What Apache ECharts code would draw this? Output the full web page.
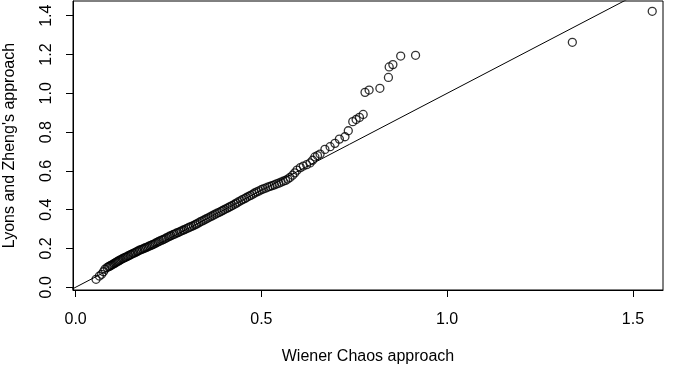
<!DOCTYPE html>
<html>
<head>
<meta charset="utf-8">
<title>Wiener Chaos vs Lyons and Zheng</title>
<script src="https://cdn.jsdelivr.net/npm/echarts@6/dist/echarts.min.js"></script>
<style>
  html, body { margin: 0; padding: 0; background: #fff; }
  #chart { width: 675px; height: 367px; }
</style>
</head>
<body>
<div id="chart"></div>
<script>
// x: Wiener Chaos approach, y: Lyons and Zheng's approach
const wienerChaos = [
  0.055, 0.064, 0.070, 0.075, 0.079,
  0.085, 0.089, 0.092, 0.095, 0.098, 0.101, 0.104, 0.107, 0.110, 0.113,
  0.116, 0.119, 0.122, 0.126, 0.129, 0.133, 0.136, 0.140, 0.143, 0.147,
  0.150, 0.154, 0.157, 0.161, 0.165, 0.168, 0.172, 0.176, 0.180, 0.184,
  0.187, 0.191, 0.195, 0.199, 0.203, 0.207, 0.211, 0.215, 0.219, 0.223,
  0.227, 0.232, 0.236, 0.240, 0.244, 0.249, 0.253, 0.257, 0.262, 0.266,
  0.271, 0.275, 0.280, 0.284, 0.289, 0.293, 0.298, 0.303, 0.307, 0.312,
  0.317, 0.322, 0.326, 0.331, 0.336, 0.341, 0.346, 0.351, 0.356, 0.361,
  0.366, 0.371, 0.376, 0.381, 0.386, 0.391, 0.396, 0.401, 0.407, 0.412,
  0.417, 0.422, 0.428, 0.433, 0.438, 0.444, 0.449, 0.455, 0.460, 0.466,
  0.471, 0.477, 0.482, 0.488, 0.494, 0.500, 0.505, 0.511, 0.517, 0.523,
  0.529, 0.535, 0.541, 0.547, 0.553, 0.559, 0.565, 0.571, 0.577, 0.584,
  0.590, 0.596,
  0.605, 0.613, 0.622, 0.631, 0.638, 0.644, 0.651, 0.658, 0.671, 0.685,
  0.698, 0.710, 0.725, 0.734, 0.746, 0.755, 0.764, 0.774, 0.779, 0.790,
  0.819, 0.842, 0.844, 0.854, 0.875, 0.915, 1.337, 1.552
];
const lyonsZheng = [
  0.041, 0.058, 0.067, 0.080, 0.093,
  0.102, 0.106, 0.109, 0.113, 0.116, 0.119, 0.123, 0.126, 0.130, 0.133,
  0.136, 0.140, 0.143, 0.147, 0.150, 0.154, 0.156, 0.160, 0.163, 0.167,
  0.170, 0.174, 0.176, 0.180, 0.184, 0.187, 0.191, 0.194, 0.197, 0.200,
  0.203, 0.206, 0.209, 0.213, 0.216, 0.220, 0.223, 0.227, 0.231, 0.235,
  0.239, 0.243, 0.246, 0.250, 0.254, 0.259, 0.263, 0.266, 0.271, 0.274,
  0.279, 0.282, 0.286, 0.290, 0.294, 0.297, 0.302, 0.306, 0.310, 0.314,
  0.318, 0.323, 0.327, 0.332, 0.338, 0.342, 0.347, 0.352, 0.357, 0.362,
  0.367, 0.372, 0.377, 0.382, 0.386, 0.391, 0.396, 0.401, 0.407, 0.412,
  0.417, 0.422, 0.428, 0.434, 0.440, 0.446, 0.452, 0.457, 0.463, 0.469,
  0.474, 0.480, 0.486, 0.492, 0.497, 0.503, 0.507, 0.511, 0.516, 0.520,
  0.524, 0.528, 0.533, 0.537, 0.542, 0.547, 0.551, 0.558, 0.566, 0.578,
  0.590, 0.604,
  0.617, 0.625, 0.632, 0.641, 0.655, 0.672, 0.679, 0.687, 0.711, 0.725,
  0.742, 0.764, 0.776, 0.807, 0.854, 0.865, 0.876, 0.891, 1.005, 1.017,
  1.026, 1.082, 1.136, 1.148, 1.192, 1.196, 1.263, 1.423
];
// reference line y = x
const identityLine = [[-0.1, -0.1], [1.7, 1.7]];

const xTicks = [0, 0.5, 1, 1.5];
const yTicks = [0, 0.2, 0.4, 0.6, 0.8, 1.0, 1.2, 1.4];

const points = wienerChaos.map((x, i) => [x, lyonsZheng[i]]);

const chart = echarts.init(document.getElementById('chart'));
const fontFamily = 'Liberation Sans, Arial, sans-serif';

chart.setOption({
  animation: false,
  grid: {
    left: 73,
    right: 12,
    top: 1,
    bottom: 77,
    outerBoundsMode: 'none',
    containLabel: false,
    show: true,
    borderColor: '#000',
    borderWidth: 1
  },
  xAxis: {
    type: 'value',
    min: -0.007,
    max: 1.581,
    name: 'Wiener Chaos approach',
    nameLocation: 'middle',
    nameGap: 59,
    nameTextStyle: { color: '#000', fontSize: 16, fontFamily: fontFamily },
    axisLine: { show: true, onZero: false, lineStyle: { color: '#000' } },
    axisTick: { show: true, inside: false, length: 7, customValues: xTicks, lineStyle: { color: '#000' } },
    axisLabel: {
      color: '#000', fontSize: 16, fontFamily: fontFamily, margin: 22,
      customValues: xTicks,
      formatter: v => v.toFixed(1)
    },
    splitLine: { show: false }
  },
  yAxis: {
    type: 'value',
    min: -0.014,
    max: 1.476,
    name: "Lyons and Zheng's approach",
    nameLocation: 'middle',
    nameGap: 55,
    nameRotate: 90,
    nameTextStyle: { color: '#000', fontSize: 16, fontFamily: fontFamily },
    axisLine: { show: true, onZero: false, lineStyle: { color: '#000' } },
    axisTick: { show: true, inside: false, length: 7, customValues: yTicks, lineStyle: { color: '#000' } },
    axisLabel: {
      color: '#000', fontSize: 16, fontFamily: fontFamily, margin: 18,
      rotate: 90,
      customValues: yTicks,
      formatter: v => v.toFixed(1)
    },
    splitLine: { show: false }
  },
  series: [
    {
      type: 'line',
      data: identityLine,
      symbol: 'none',
      clip: true,
      silent: true,
      lineStyle: { color: '#000', width: 1 }
    },
    {
      type: 'scatter',
      data: points,
      symbol: 'circle',
      symbolSize: 8,
      itemStyle: { color: 'transparent', borderColor: '#000', borderWidth: 1.3 }
    }
  ]
});
</script>
</body>
</html>
